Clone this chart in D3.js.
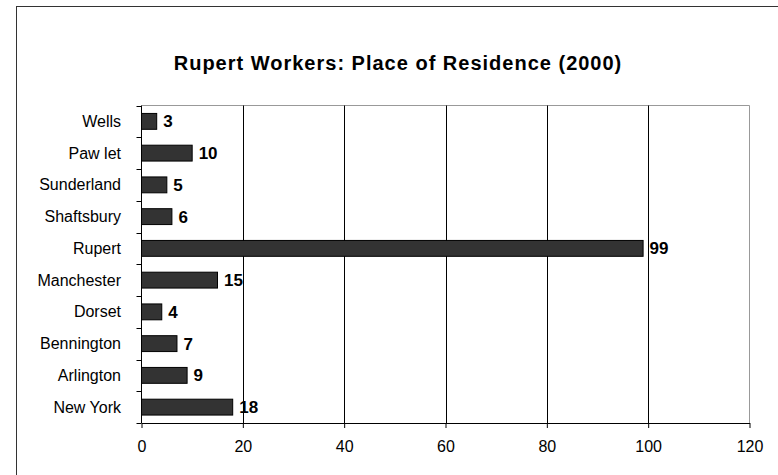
<!DOCTYPE html>
<html>
<head>
<meta charset="utf-8">
<script src="https://cdn.jsdelivr.net/npm/d3@7/dist/d3.min.js"></script>
<style>
  html, body { margin: 0; padding: 0; background: #fff; }
  svg { display: block; font-family: Arial, "Liberation Sans", sans-serif; }
</style>
</head>
<body>
<script>
// --- data (top to bottom as shown) ---
const places = ["Wells", "Paw let", "Sunderland", "Shaftsbury", "Rupert",
                "Manchester", "Dorset", "Bennington", "Arlington", "New York"];
const workers = [3, 10, 5, 6, 99, 15, 4, 7, 9, 18];
const xTicks = [0, 20, 40, 60, 80, 100, 120];

const W = 778, H = 475;
const plot = { left: 141.5, right: 749.5, top: 105.5, bottom: 423 };

const svg = d3.select("body").append("svg")
  .attr("width", W).attr("height", H);

// outer chart frame (runs off the right/bottom edge)
svg.append("rect")
  .attr("x", 16.5).attr("y", 6.5)
  .attr("width", 820).attr("height", 520)
  .attr("fill", "#fff")
  .attr("stroke", "#333").attr("stroke-width", 1);

// title
svg.append("text")
  .attr("x", 398).attr("y", 69.5)
  .attr("text-anchor", "middle")
  .style("font-size", "20px").style("font-weight", "bold")
  .style("letter-spacing", "1px")
  .attr("fill", "#000")
  .text("Rupert Workers: Place of Residence (2000)");

const x = d3.scaleLinear().domain([0, 120]).range([plot.left, plot.right]);
const y = d3.scaleBand().domain(places)
  .range([plot.top, plot.bottom])
  .paddingInner(0.5).paddingOuter(0.25);

// plot area border (gray top/right)
svg.append("path")
  .attr("d", `M${plot.left},${plot.top} H${plot.right} V${plot.bottom}`)
  .attr("fill", "none").attr("stroke", "#999").attr("stroke-width", 1);

// vertical gridlines
svg.append("g").selectAll("line")
  .data(xTicks.filter(d => d > 0 && d < 120))
  .join("line")
  .attr("x1", d => Math.round(x(d)) + 0.5).attr("x2", d => Math.round(x(d)) + 0.5)
  .attr("y1", plot.top).attr("y2", plot.bottom)
  .attr("stroke", "#000").attr("stroke-width", 1);

// x axis
const xAxis = svg.append("g")
  .attr("transform", `translate(0,${plot.bottom})`)
  .call(d3.axisBottom(x).tickValues(xTicks).tickSize(5).tickPadding(13).tickSizeOuter(0));
xAxis.select(".domain").attr("stroke", "#000");
xAxis.selectAll(".tick line").attr("stroke", "#000");
xAxis.selectAll(".tick text")
  .style("font-size", "16px").style("font-family", "Arial, 'Liberation Sans', sans-serif")
  .attr("fill", "#000");

// y axis: ticks at category boundaries
const step = y.step();
const boundaries = d3.range(places.length + 1).map(i => plot.top + i * step);
svg.append("line")
  .attr("x1", plot.left).attr("x2", plot.left)
  .attr("y1", plot.top).attr("y2", plot.bottom)
  .attr("stroke", "#000");
svg.append("g").selectAll("line")
  .data(boundaries)
  .join("line")
  .attr("x1", plot.left - 5).attr("x2", plot.left)
  .attr("y1", d => Math.round(d) + 0.5).attr("y2", d => Math.round(d) + 0.5)
  .attr("stroke", "#000");

// category labels
svg.append("g").selectAll("text")
  .data(places)
  .join("text")
  .attr("x", 121)
  .attr("y", d => y(d) + y.bandwidth() / 2 + 5.5)
  .attr("text-anchor", "end")
  .style("font-size", "16px")
  .attr("fill", "#000")
  .text(d => d);

// bars
svg.append("g").selectAll("rect")
  .data(places)
  .join("rect")
  .attr("x", x(0))
  .attr("y", d => y(d))
  .attr("width", (d, i) => x(workers[i]) - x(0))
  .attr("height", y.bandwidth())
  .attr("fill", "#333")
  .attr("stroke", "#000").attr("stroke-width", 1);

// value labels
svg.append("g").selectAll("text")
  .data(places)
  .join("text")
  .attr("x", (d, i) => x(workers[i]) + 6.5)
  .attr("y", d => y(d) + y.bandwidth() / 2 + 6)
  .style("font-size", "17px").style("font-weight", "bold")
  .attr("fill", "#000")
  .text((d, i) => workers[i]);
</script>
</body>
</html>
